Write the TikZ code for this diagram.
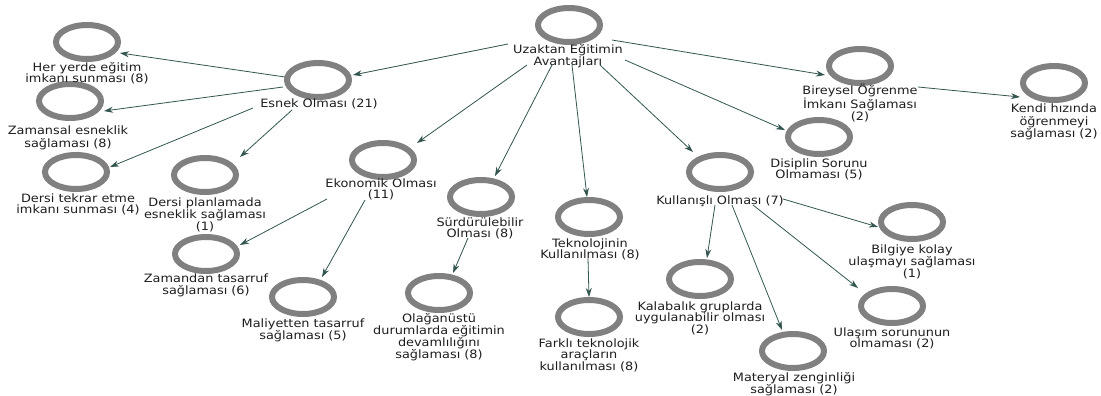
\documentclass[tikz,border=0pt]{standalone}
\usepackage{fontspec}
\setmainfont{DejaVu Sans}[FakeStretch=1.12]
\usetikzlibrary{arrows.meta,shapes.geometric}
\definecolor{ringgray}{RGB}{128,128,128}
\definecolor{edgecol}{RGB}{50,85,80}
\definecolor{txtcol}{RGB}{30,30,30}
\newcommand\lbltext[1]{\begin{tabular}[t]{@{}c@{}}#1\end{tabular}}
\tikzset{
  ring/.style={ellipse, draw=ringgray, line width=6pt, minimum width=62pt,
    minimum height=34pt, inner sep=0pt, outer sep=0pt},
  lbl/.style={anchor=base, inner sep=0pt, text=txtcol},
  edge/.style={draw=edgecol, line width=0.8pt, -{Stealth[length=9pt, width=6pt]}}
}
\begin{document}
\begin{tikzpicture}[x=1pt, y=-1pt, font=\fontsize{11.5}{10.5}\selectfont]
\fill[white] (0,0) rectangle (1101,396);
\useasboundingbox (0,0) rectangle (1101,396);

% circles
\node[ring] (c-root)       at (569,25)  {};
\node[ring] (c-esnek)      at (318,80)  {};
\node[ring] (c-her)        at (87,42)   {};
\node[ring] (c-zamansal)   at (70,101)  {};
\node[ring] (c-tekrar)     at (76,172)  {};
\node[ring] (c-planlama)   at (205,175) {};
\node[ring] (c-ekonomik)   at (383,160) {};
\node[ring] (c-zamandan)   at (206,254) {};
\node[ring] (c-maliyet)    at (303,297) {};
\node[ring] (c-surdur)     at (481,197) {};
\node[ring] (c-olagan)     at (439,293) {};
\node[ring] (c-teknoloji)  at (589,217) {};
\node[ring] (c-farkli)     at (589,317) {};
\node[ring] (c-kullanisli) at (720,172) {};
\node[ring] (c-kalabalik)  at (700,279) {};
\node[ring] (c-materyal)   at (793,351) {};
\node[ring] (c-ulasim)     at (892,306) {};
\node[ring] (c-bilgiye)    at (912,222) {};
\node[ring] (c-disiplin)   at (819,137) {};
\node[ring] (c-bireysel)   at (860,66)  {};
\node[ring] (c-kendi)      at (1054,83) {};

% labels
\node[lbl] (l-root)       at (568,54)  {\lbltext{Uzaktan Eğitimin\\Avantajları}};
\node[lbl] (l-esnek)      at (319,107) {\lbltext{Esnek Olması (21)}};
\node[lbl] (l-her)        at (87,71)   {\lbltext{Her yerde eğitim\\imkanı sunması (8)}};
\node[lbl] (l-zamansal)   at (68,135)  {\lbltext{Zamansal esneklik\\sağlaması (8)}};
\node[lbl] (l-tekrar)     at (78,202)  {\lbltext{Dersi tekrar etme\\imkanı sunması (4)}};
\node[lbl] (l-planlama)   at (205,206) {\lbltext{Dersi planlamada\\esneklik sağlaması\\(1)}};
\node[lbl] (l-ekonomik)   at (381,187) {\lbltext{Ekonomik Olması\\(11)}};
\node[lbl] (l-zamandan)   at (206,282) {\lbltext{Zamandan tasarruf\\sağlaması (6)}};
\node[lbl] (l-maliyet)    at (303,327) {\lbltext{Maliyetten tasarruf\\sağlaması (5)}};
\node[lbl] (l-surdur)     at (480,226) {\lbltext{Sürdürülebilir\\Olması (8)}};
\node[lbl] (l-olagan)     at (439,322) {\lbltext{Olağanüstü\\durumlarda eğitimin\\devamlılığını\\sağlaması (8)}};
\node[lbl] (l-teknoloji)  at (590,247) {\lbltext{Teknolojinin\\Kullanılması (8)}};
\node[lbl] (l-farkli)     at (589,347) {\lbltext{Farklı teknolojik\\araçların\\kullanılması (8)}};
\node[lbl] (l-kullanisli) at (720,204) {\lbltext{Kullanışlı Olması (7)}};
\node[lbl] (l-kalabalik)  at (700,310) {\lbltext{Kalabalık gruplarda\\uygulanabilir olması\\(2)}};
\node[lbl] (l-materyal)   at (794,381) {\lbltext{Materyal zenginliği\\sağlaması (2)}};
\node[lbl] (l-ulasim)     at (892,336) {\lbltext{Ulaşım sorununun\\olmaması (2)}};
\node[lbl] (l-bilgiye)    at (912,253) {\lbltext{Bilgiye kolay\\ulaşmayı sağlaması\\(1)}};
\node[lbl] (l-disiplin)   at (819,167) {\lbltext{Disiplin Sorunu\\Olmaması (5)}};
\node[lbl] (l-bireysel)   at (860,95)  {\lbltext{Bireysel Öğrenme\\İmkanı Sağlaması\\(2)}};
\node[lbl] (l-kendi)      at (1054,113){\lbltext{Kendi hızında\\öğrenmeyi\\sağlaması (2)}};

% connectors
\draw[edge] ([shift={(-60,-10)}]l-root.base) -- ([shift={(35,-5)}]c-esnek.center);
\draw[edge] ([shift={(-41,11)}]l-root.base)  -- ([shift={(34,-17)}]c-ekonomik.center);
\draw[edge] ([shift={(-16,11)}]l-root.base)  -- ([shift={(14,-21)}]c-surdur.center);
\draw[edge] ([shift={(4,11)}]l-root.base)    -- ([shift={(-2,-20)}]c-teknoloji.center);
\draw[edge] ([shift={(32,11)}]l-root.base)   -- ([shift={(-27,-20)}]c-kullanisli.center);
\draw[edge] ([shift={(57,6)}]l-root.base)    -- ([shift={(-34,-7)}]c-disiplin.center);
\draw[edge] ([shift={(44,-14)}]l-root.base)  -- ([shift={(-35,9)}]c-bireysel.center);
\draw[edge] ([shift={(58,-8)}]l-bireysel.base) -- ([shift={(-34,14)}]c-kendi.center);

\draw[edge] ([shift={(-33,-3)}]c-esnek.center) -- ([shift={(33,11)}]c-her.center);
\draw[edge] ([shift={(-35,7)}]c-esnek.center)  -- ([shift={(34,10)}]c-zamansal.center);
\draw[edge] ([shift={(-66,1)}]l-esnek.base)    -- ([shift={(34,-5)}]c-tekrar.center);
\draw[edge] ([shift={(-27,3)}]l-esnek.base)    -- ([shift={(35,-18)}]c-planlama.center);

\draw[edge] ([shift={(-54,12)}]l-ekonomik.base) -- ([shift={(34,-9)}]c-zamandan.center);
\draw[edge] ([shift={(-16,13)}]l-ekonomik.base) -- ([shift={(19,-20)}]c-maliyet.center);
\draw[edge] ([shift={(-12,12)}]l-surdur.base)   -- ([shift={(14,-20)}]c-olagan.center);
\draw[edge] ([shift={(-2,11)}]l-teknoloji.base) -- ([shift={(0,-20)}]c-farkli.center);

\draw[edge] ([shift={(-5,1)}]l-kullanisli.base) -- ([shift={(7,-21)}]c-kalabalik.center);
\draw[edge] ([shift={(12,1)}]l-kullanisli.base) -- ([shift={(-11,-21)}]c-materyal.center);
\draw[edge] ([shift={(33,1)}]l-kullanisli.base) -- ([shift={(-34,-18)}]c-ulasim.center);
\draw[edge] ([shift={(63,-5)}]l-kullanisli.base) -- ([shift={(-34,5)}]c-bilgiye.center);
\end{tikzpicture}
\end{document}
